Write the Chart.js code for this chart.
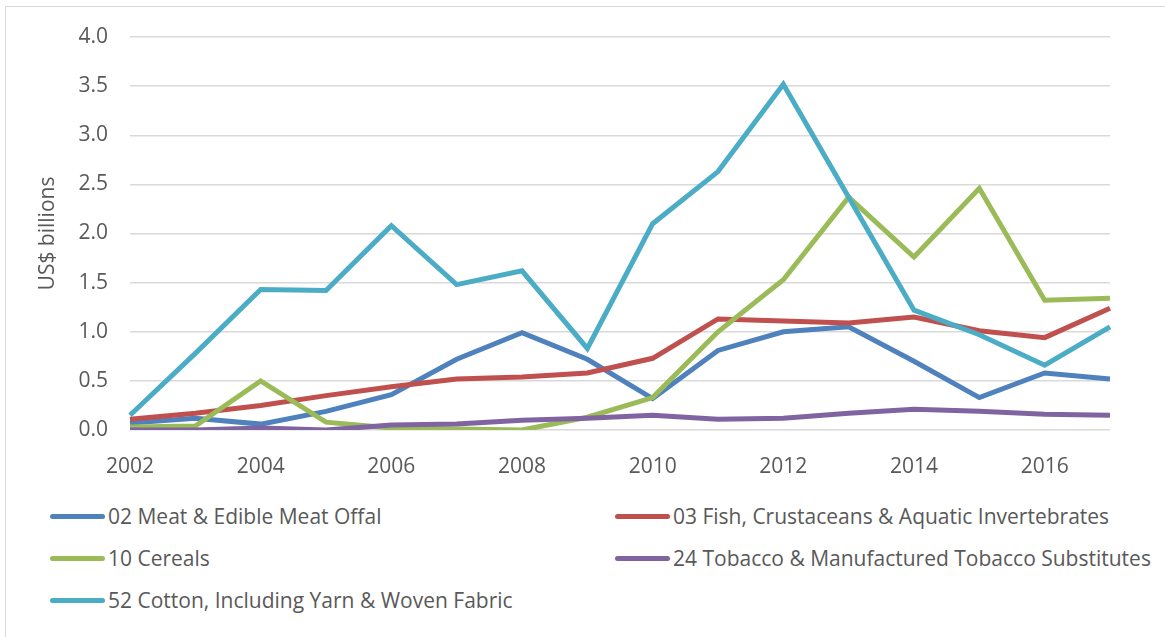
<!DOCTYPE html>
<html>
<head>
<meta charset="utf-8">
<script src="https://cdn.jsdelivr.net/npm/chart.js@4.4.1/dist/chart.umd.min.js"></script>
<style>
  body { margin: 0; background: #fff; font-family: "Open Sans", sans-serif; }
  #frame { position: absolute; left: 5px; top: 6px; width: 1300px; height: 800px; border: 1px solid #d9d9d9; }
  #wrap { position: absolute; left: 0; top: 0; width: 1165px; height: 490px; }
  #legend { position: absolute; left: 50px; top: 502px; width: 1110px; display: grid;
            grid-template-columns: 565px 545px; row-gap: 14px; }
  .item { display: flex; align-items: center; height: 28px; font-size: 21px; color: #595959; white-space: nowrap; }
  .swatch { width: 55px; height: 5px; border-radius: 3px; margin-right: 3px; }
</style>
</head>
<body>
<div id="frame"></div>
<div id="wrap"><canvas id="myChart"></canvas></div>
<div id="legend"></div>
<script>
  var years = ['2002','2003','2004','2005','2006','2007','2008','2009','2010','2011','2012','2013','2014','2015','2016','2017'];

  var meat    = [0.07, 0.12, 0.06, 0.19, 0.36, 0.72, 0.99, 0.72, 0.32, 0.81, 1.00, 1.05, 0.70, 0.33, 0.58, 0.52];
  var fish    = [0.11, 0.17, 0.25, 0.35, 0.44, 0.52, 0.54, 0.58, 0.73, 1.13, 1.11, 1.09, 1.15, 1.01, 0.94, 1.24];
  var cereals = [0.03, 0.04, 0.50, 0.08, 0.02, 0.01, 0.00, 0.13, 0.33, 1.00, 1.53, 2.37, 1.76, 2.46, 1.32, 1.34];
  var tobacco = [0.00, 0.00, 0.02, 0.00, 0.05, 0.06, 0.10, 0.12, 0.15, 0.11, 0.12, 0.17, 0.21, 0.19, 0.16, 0.15];
  var cotton  = [0.15, 0.78, 1.43, 1.42, 2.08, 1.48, 1.62, 0.83, 2.10, 2.63, 3.52, 2.37, 1.22, 0.97, 0.66, 1.05];

  var names = [
    '02 Meat & Edible Meat Offal',
    '03 Fish, Crustaceans & Aquatic Invertebrates',
    '10 Cereals',
    '24 Tobacco & Manufactured Tobacco Substitutes',
    '52 Cotton, Including Yarn & Woven Fabric'
  ];
  var colors = ['#4F81BD', '#C0504D', '#9BBB59', '#8064A2', '#4BACC6'];
  var series = [meat, fish, cereals, tobacco, cotton];

  var datasets = series.map(function(d, i) {
    return {
      label: names[i],
      data: d,
      borderColor: colors[i],
      backgroundColor: colors[i],
      borderWidth: 5,
      pointRadius: 0,
      tension: 0,
      order: series.length - i  // later series on top, like Excel
    };
  });

  var ctx = document.getElementById('myChart');
  var chart = new Chart(ctx, {
    type: 'line',
    data: { labels: years, datasets: datasets },
    options: {
      responsive: true,
      maintainAspectRatio: false,
      animation: false,
      layout: { padding: { left: 0, right: 55, top: 37, bottom: 0 } },
      plugins: { legend: { display: false }, tooltip: { enabled: false } },
      scales: {
        x: {
          offset: false,
          grid: { display: false, drawTicks: false },
          border: { display: false },
          afterFit: function(scale) { scale.height = 60; },
          ticks: {
            autoSkip: false,
            maxRotation: 0,
            padding: 24,
            color: '#595959',
            font: { family: 'Open Sans', size: 21 },
            callback: function(v, i) { return i % 2 === 0 ? years[i] : ''; }
          }
        },
        y: {
          min: 0,
          max: 4,
          afterFit: function(scale) { scale.width = 130; },
          grid: { color: '#d9d9d9', lineWidth: 1.5, drawTicks: false },
          border: { display: false },
          ticks: {
            stepSize: 0.5,
            padding: 22,
            color: '#595959',
            font: { family: 'Open Sans', size: 21 },
            callback: function(v) { return v.toFixed(1); }
          },
          title: {
            display: true,
            text: 'US$ billions',
            color: '#595959',
            font: { family: 'Open Sans', size: 21 },
            padding: { top: 35, bottom: 0 }
          }
        }
      }
    }
  });

  var legend = document.getElementById('legend');
  chart.data.datasets.forEach(function(ds) {
    var item = document.createElement('div');
    item.className = 'item';
    var sw = document.createElement('span');
    sw.className = 'swatch';
    sw.style.background = ds.borderColor;
    var txt = document.createElement('span');
    txt.textContent = ds.label;
    item.appendChild(sw);
    item.appendChild(txt);
    legend.appendChild(item);
  });
</script>
</body>
</html>
